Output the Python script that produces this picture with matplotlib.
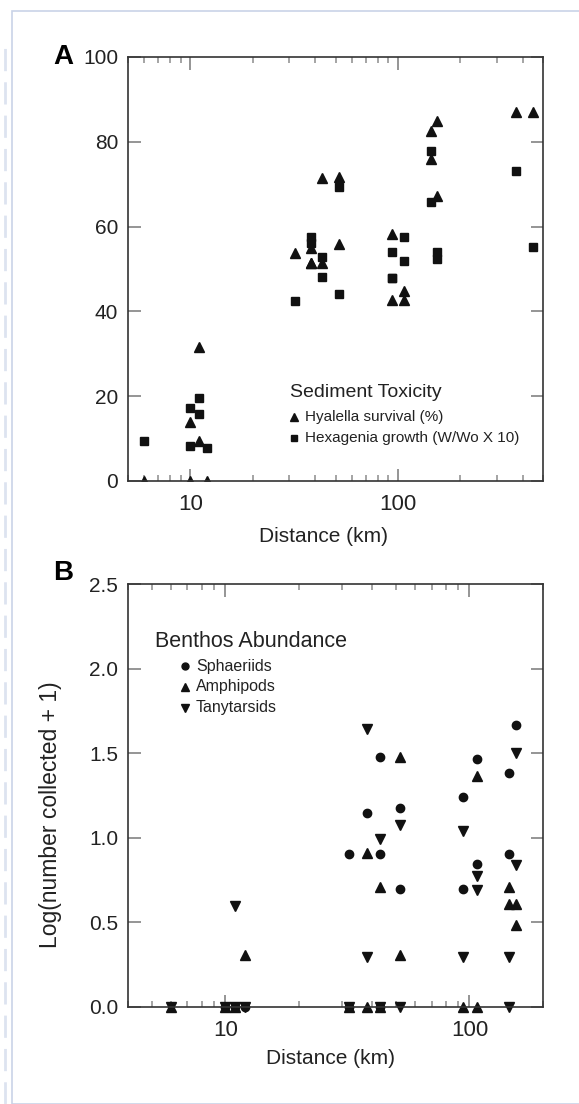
import matplotlib
matplotlib.use("Agg")
import matplotlib.pyplot as plt
from matplotlib.ticker import LogLocator, NullFormatter, FixedLocator
from matplotlib.patches import Rectangle

plt.rcParams['font.family'] = ['Liberation Sans', 'DejaVu Sans']

# ---- panel A: sediment toxicity ----
hyal_x = [6, 10, 10, 11, 11, 12, 32, 38, 38, 38, 43, 43, 52, 52,
          94, 94, 107, 107, 145, 145, 155, 155, 372, 449]
hyal_y = [0, 0, 13.8, 31.7, 9.4, 0, 53.8, 54.9, 51.4, 51.4, 71.4, 51.4, 71.6, 55.9,
          58.3, 42.7, 44.9, 42.7, 82.6, 76.0, 84.9, 67.2, 87.1, 87.1]

hexa_x = [6, 10, 10, 11, 11, 12, 32, 38, 38, 43, 43, 52, 52,
          94, 94, 94, 107, 107, 145, 145, 155, 155, 372, 449]
hexa_y = [9.4, 17.1, 8.3, 19.6, 15.8, 7.7, 42.5, 57.5, 56.1, 52.8, 48.1, 69.4, 44.1,
          54.1, 47.8, 47.8, 57.5, 51.8, 77.9, 65.7, 54.1, 52.4, 73.2, 55.1]

# ---- panel B: benthos abundance ----
sph_x = [10, 11, 12, 32, 32, 38, 43, 43, 43, 52, 52, 94, 94, 107, 107, 145, 145, 155]
sph_y = [0, 0, 0, 0, 0.904, 1.146, 1.478, 0.904, 0, 1.176, 0.70, 1.24, 0.70,
         1.466, 0.845, 1.383, 0.904, 1.664]

amp_x = [6, 10, 11, 12, 32, 38, 38, 43, 43, 52, 52, 94, 107, 107, 145, 145, 155, 155]
amp_y = [0, 0, 0, 0.309, 0, 0.91, 0, 0.707, 0, 1.48, 0.305, 0, 1.367, 0,
         0.707, 0.608, 0.608, 0.486]

tany_x = [6, 10, 11, 11, 12, 32, 38, 38, 43, 43, 52, 52, 94, 94, 107, 107, 145, 145, 155, 155]
tany_y = [0, 0, 0.595, 0, 0, 0, 1.645, 0.296, 0.995, 0, 1.073, 0, 1.038, 0.296,
          0.772, 0.693, 0.296, 0, 1.50, 0.841]

W, H = 579, 1104
fig = plt.figure(figsize=(W / 100, H / 100), dpi=100)

# faint page frame
fig.patches.append(Rectangle((12 / W, 0), 1, 1 - 11 / H, transform=fig.transFigure,
                             fill=False, ec='#c9d3e8', lw=1.2))
fig.add_artist(plt.Line2D([5 / W, 5 / W], [0, 1 - 40 / H], transform=fig.transFigure,
                          color='#dde3f0', lw=2, ls=(0, (8, 4))))

axA = fig.add_axes([128 / W, 1 - 481 / H, 415 / W, 424 / H])
axB = fig.add_axes([128 / W, 1 - 1007 / H, 415 / W, 423 / H])


def style(ax):
    ax.set_xscale('log')
    for s in ax.spines.values():
        s.set_color('#333333')
        s.set_linewidth(1.2)
    ax.xaxis.set_minor_locator(LogLocator(base=10, subs=range(2, 10)))
    ax.xaxis.set_minor_formatter(NullFormatter())
    ax.tick_params(which='both', direction='in', top=True, right=True, color='#8c8c8c',
                   labelcolor='#222222')
    ax.tick_params(axis='x', which='major', length=9, width=1.3, labelsize=16, pad=9)
    ax.tick_params(axis='x', which='minor', length=4, width=1.1)
    ax.tick_params(axis='y', which='major', length=9, width=1.3, labelsize=15, pad=7)
    ax.set_xticks([10, 100])
    ax.set_xticklabels(['10', '100'])


style(axA)
axA.plot(hyal_x, hyal_y, ls='none', marker='^', ms=7.5, color='#111111')
axA.plot(hexa_x, hexa_y, ls='none', marker='s', ms=5.8, color='#111111')
axA.set_xlim(5, 500)
axA.set_ylim(0, 100)
axA.yaxis.set_major_locator(FixedLocator([0, 20, 40, 60, 80, 100]))
axA.set_xlabel('Distance (km)', fontsize=15, color='#222222')
axA.xaxis.set_label_coords(0.471, -0.108)

axA.text(0.39, 0.198, 'Sediment Toxicity', transform=axA.transAxes, fontsize=14,
         ha='left', va='baseline', color='#222222')
axA.plot([0.40], [0.152], transform=axA.transAxes, marker='^', ms=6, color='#111111')
axA.text(0.426, 0.152, 'Hyalella survival (%)', transform=axA.transAxes, fontsize=11,
         va='center', color='#222222')
axA.plot([0.40], [0.101], transform=axA.transAxes, marker='s', ms=4.5, color='#111111')
axA.text(0.426, 0.101, 'Hexagenia growth (W/Wo X 10)', transform=axA.transAxes,
         fontsize=11, va='center', color='#222222')

style(axB)
axB.plot(sph_x, sph_y, ls='none', marker='o', ms=6, color='#111111', clip_on=False)
axB.plot(amp_x, amp_y, ls='none', marker='^', ms=7.5, color='#111111', clip_on=False)
axB.plot(tany_x, tany_y, ls='none', marker='v', ms=7.5, color='#111111', clip_on=False)
axB.set_xlim(4, 200)
axB.set_ylim(0, 2.5)
axB.set_yticks([0, 0.5, 1.0, 1.5, 2.0, 2.5])
axB.set_yticklabels(['0.0', '0.5', '1.0', '1.5', '2.0', '2.5'])
axB.set_xlabel('Distance (km)', fontsize=15, color='#222222')
axB.xaxis.set_label_coords(0.487, -0.10)
axB.set_ylabel('Log(number collected + 1)', fontsize=16.5, color='#222222')
axB.yaxis.set_label_coords(-0.16, 0.455)

axB.text(0.065, 0.865, 'Benthos Abundance', transform=axB.transAxes, fontsize=15.5,
         va='center', color='#222222')
labelsB = ['Sphaeriids', 'Amphipods', 'Tanytarsids']
marksB = ['o', '^', 'v']
rowsB = [0.806, 0.757, 0.708]
for lab, mk, yy in zip(labelsB, marksB, rowsB):
    axB.plot([0.137], [yy], transform=axB.transAxes, marker=mk,
             ms=5 if mk == 'o' else 6, color='#111111')
    axB.text(0.164, yy, lab, transform=axB.transAxes, fontsize=11.5, va='center',
             color='#222222')

fig.text(53 / W, 1 - 57 / H, 'A', fontsize=20, fontweight='bold', va='center', ha='left')
fig.text(53 / W, 1 - 573 / H, 'B', fontsize=20, fontweight='bold', va='center', ha='left')

fig.savefig('out.png', dpi=100)
